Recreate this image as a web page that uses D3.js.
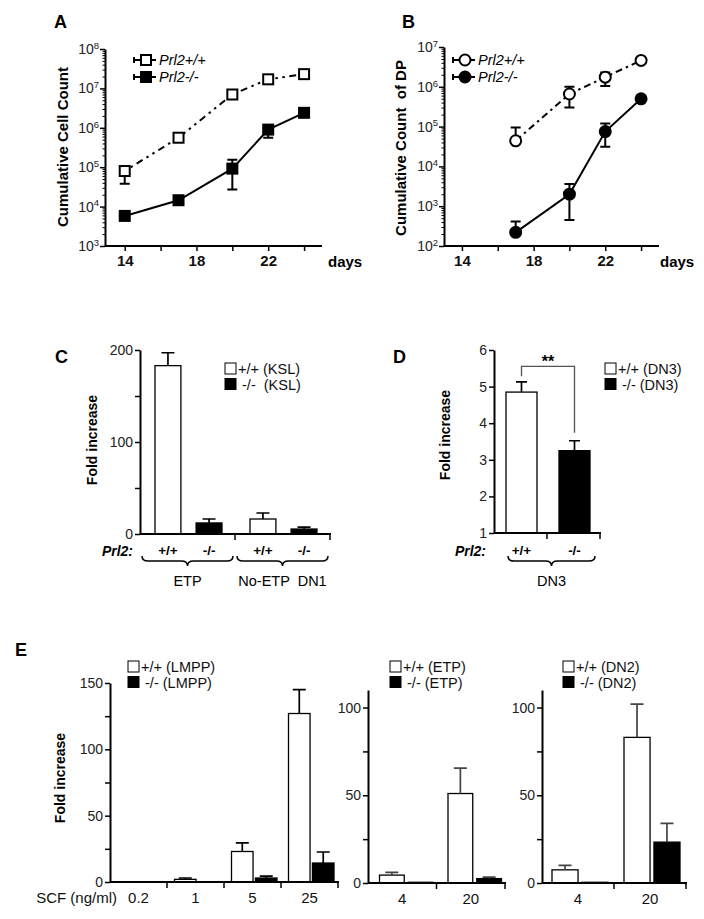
<!DOCTYPE html>
<html>
<head>
<meta charset="utf-8">
<script src="https://cdn.jsdelivr.net/npm/d3@7"></script>
<style>
  body { margin: 0; background: #fff; }
  svg { font-family: "Liberation Sans", Arial, Helvetica, sans-serif; }
  text { white-space: pre; }
</style>
</head>
<body>
<svg id="fig" width="704" height="919"></svg>
<script>
// ---- panel A : cumulative cell count ----
const dayTicks = [14, 16, 18, 20, 22, 24];
const dayLabels = [14, 18, 22];
const daysA = [14, 17, 20, 22, 24];
const cellWT = [8e4, 5.6e5, 7e6, 1.7e7, 2.3e7];
const cellWTerr = [[3.8e4, 1e5], null, null, null, null];
const cellKO = [5.8e3, 1.45e4, 9.2e4, 9e5, 2.4e6];
const cellKOerr = [null, null, [2.7e4, 1.55e5], [5.6e5, 1.15e6], null];

// ---- panel B : cumulative count of DP ----
const daysB = [17, 20, 22, 24];
const dpWT = [4.4e4, 6.6e5, 1.75e6, 4.6e6];
const dpWTerr = [[4.4e4, 9.5e4], [3e5, 1e6], [1.05e6, 2.3e6], null];
const dpKO = [2.2e2, 2e3, 7.5e4, 5e5];
const dpKOerr = [[2.2e2, 4.1e2], [4.5e2, 3.6e3], [3.1e4, 1.2e5], null];

// ---- panel C : fold increase, KSL ----
const genotypes = ["+/+", "-/-"];
const cGroups = ["ETP", "No-ETP  DN1"];
const cWT = [183, 16.3];
const cWTerr = [14, 6.5];
const cKO = [12, 5.4];
const cKOerr = [4.3, 2];

// ---- panel D : fold increase, DN3 ----
const dVals = [4.85, 3.25];
const dErr = [0.28, 0.27];

// ---- panel E : SCF titration ----
const e1Doses = ["0.2", "1", "5", "25"];
const e1WT = [0, 2, 23, 127];
const e1WTerr = [0, 1, 6.5, 18];
const e1KO = [0, 0, 3, 14.3];
const e1KOerr = [0, 0, 1.5, 8.3];

const e2Doses = ["4", "20"];
const e2WT = [4.5, 51];
const e2WTerr = [1.5, 14.5];
const e2KO = [0.4, 2.5];
const e2KOerr = [0, 0.8];

const e3Doses = ["4", "20"];
const e3WT = [7.5, 83];
const e3WTerr = [2.5, 19];
const e3KO = [0.4, 23.3];
const e3KOerr = [0, 10.7];

const FONT = '"Liberation Sans", Arial, Helvetica, sans-serif';
const svg = d3.select("#fig");

function panelLetter(t, x, y) {
  svg.append("text").attr("x", x).attr("y", y).attr("font-size", 18)
    .attr("font-weight", "bold").text(t);
}

function yTitle(t, x, y, fs) {
  svg.append("text").attr("transform", `translate(${x},${y}) rotate(-90)`)
    .attr("text-anchor", "middle").attr("dy", "0.35em")
    .attr("font-size", fs || 14).attr("font-weight", "bold").text(t);
}

function styleAxis(a, fs) {
  a.attr("font-family", FONT).attr("font-size", fs);
  a.select(".domain").attr("stroke", "#000").attr("stroke-width", 2);
  a.selectAll(".tick line").attr("stroke", "#000").attr("stroke-width", 1.5);
  a.selectAll(".tick text").attr("fill", "#222");
}

// log-scale growth curve panel
function growthPanel(x, y, days, series) {
  const g = svg.append("g");
  const y0 = y.range()[0], x0 = x.range()[0];

  const xa = g.append("g").attr("transform", `translate(0,${y0})`)
    .call(d3.axisBottom(x).tickValues(dayTicks).tickSize(5).tickSizeOuter(0).tickPadding(4)
      .tickFormat(d => dayLabels.includes(d) ? d : ""));
  styleAxis(xa, 15);
  xa.selectAll(".tick text").attr("font-weight", "bold").attr("fill", "#111");
  xa.select(".domain").attr("d", `M${x0},0H${x.range()[1]}`);

  const [lo, hi] = y.domain().map(Math.log10);
  const decades = d3.range(lo, hi + 1).map(k => Math.pow(10, k));
  const minors = [];
  for (let k = lo; k < hi; k++) for (let m = 2; m < 10; m++) minors.push(m * Math.pow(10, k));

  g.append("g").attr("transform", `translate(${x0},0)`)
    .call(d3.axisLeft(y).tickValues(minors).tickSize(2.5).tickSizeOuter(0).tickFormat(""))
    .call(a => { a.select(".domain").remove(); a.selectAll("line").attr("stroke-width", 1); });

  const ya = g.append("g").attr("transform", `translate(${x0},0)`)
    .call(d3.axisLeft(y).tickValues(decades).tickSize(5).tickSizeOuter(0).tickPadding(1).tickFormat(""));
  styleAxis(ya, 14);
  ya.selectAll(".tick text").each(function (d) {
    const t = d3.select(this);
    t.append("tspan").text("10");
    t.append("tspan").attr("dy", "-0.55em").attr("font-size", 9.5).text(Math.round(Math.log10(d)));
  });

  const line = d3.line().x(d => x(d.day)).y(d => y(d.v));
  series.forEach(s => {
    const pts = days.map((day, i) => ({ day, v: s.vals[i], e: s.err[i] }));
    g.append("path").datum(pts).attr("d", line).attr("fill", "none")
      .attr("stroke", "#000").attr("stroke-width", 2)
      .attr("stroke-dasharray", s.dash || null);

    const eb = pts.filter(d => d.e);
    g.selectAll(null).data(eb).join("path")
      .attr("d", d => {
        const cx = x(d.day);
        let p = `M${cx},${y(d.e[0])}V${y(d.e[1])}`;
        if (d.e[0] < d.v) p += `M${cx - 5},${y(d.e[0])}h10`;
        if (d.e[1] > d.v) p += `M${cx - 5},${y(d.e[1])}h10`;
        return p;
      })
      .attr("stroke", "#000").attr("stroke-width", 2).attr("fill", "none");

    drawMarker(g, pts.map(d => [x(d.day), y(d.v)]), s, 5);
  });
  return g;
}

function drawMarker(g, pts, s, h) {
  const fill = s.open ? "#fff" : "#000";
  if (s.shape === "square") {
    g.selectAll(null).data(pts).join("rect")
      .attr("x", d => d[0] - h).attr("y", d => d[1] - h).attr("width", 2 * h).attr("height", 2 * h)
      .attr("fill", fill).attr("stroke", "#000").attr("stroke-width", 2);
  } else {
    g.selectAll(null).data(pts).join("circle")
      .attr("cx", d => d[0]).attr("cy", d => d[1]).attr("r", h + 0.5)
      .attr("fill", fill).attr("stroke", "#000").attr("stroke-width", 2);
  }
}

function lineLegend(x, y, s) {
  svg.append("path").attr("d", `M${x - 12},${y - 3}v6M${x - 12},${y}H${x + 10}`)
    .attr("stroke", "#000").attr("stroke-width", 2).attr("fill", "none");
  drawMarker(svg, [[x, y]], s, 5);
  svg.append("text").attr("x", x + 13).attr("y", y).attr("dy", "0.35em")
    .attr("font-size", 14.5).attr("font-style", "italic").text(s.label);
}

function boxLegend(x, y, labels) {
  labels.forEach((t, i) => {
    svg.append("rect").attr("x", x).attr("y", y + i * 15.5 - 6).attr("width", 11).attr("height", 11)
      .attr("fill", i ? "#000" : "#fff").attr("stroke", "#000").attr("stroke-width", 1);
    svg.append("text").attr("x", x + 13).attr("y", y + i * 15.5).attr("dy", "0.36em")
      .attr("font-size", 14.5).attr("fill", "#111").text(t);
  });
}

function drawBars(g, bars, y, errColor) {
  const base = y(y.domain()[0]);
  g.selectAll(null).data(bars).join("rect")
    .attr("x", d => d.x).attr("width", d => d.w)
    .attr("y", d => y(d.v)).attr("height", d => base - y(d.v))
    .attr("fill", d => d.fill).attr("stroke", "#000").attr("stroke-width", 1.3);
  g.selectAll(null).data(bars.filter(d => d.e > 0)).join("path")
    .attr("d", d => {
      const cx = d.x + d.w / 2, c = d.cap / 2;
      return `M${cx},${y(d.v)}V${y(d.v + d.e)}M${cx - c},${y(d.v + d.e)}H${cx + c}`;
    })
    .attr("stroke", errColor).attr("stroke-width", 1.7).attr("fill", "none");
}

function yAxisLinear(y, x0, ticks, labelled) {
  const a = svg.append("g").attr("transform", `translate(${x0},0)`)
    .call(d3.axisLeft(y).tickValues(ticks).tickSize(5).tickSizeOuter(0).tickPadding(2)
      .tickFormat(d => labelled.includes(d) ? d : ""));
  styleAxis(a, 14);
  return a;
}

// x axis drawn from a band scale: ticks at band edges
function xAxisBand(xb, yBase) {
  const [r0, r1] = xb.range();
  svg.append("line").attr("x1", r0).attr("x2", r1 + 1).attr("y1", yBase).attr("y2", yBase)
    .attr("stroke", "#000").attr("stroke-width", 2);
  svg.selectAll(null).data(xb.domain()).join("line")
    .attr("x1", d => xb(d) + xb.bandwidth()).attr("x2", d => xb(d) + xb.bandwidth())
    .attr("y1", yBase).attr("y2", yBase + 6)
    .attr("stroke", "#000").attr("stroke-width", 1.5);
}

function brace(x1, x2, y) {
  const m = (x1 + x2) / 2, r = 6;
  return `M${x1},${y - 4}Q${x1},${y + 1} ${x1 + r},${y + 1}L${m - r},${y + 1}` +
    `Q${m},${y + 1} ${m},${y + 6}Q${m},${y + 1} ${m + r},${y + 1}L${x2 - r},${y + 1}` +
    `Q${x2},${y + 1} ${x2},${y - 4}`;
}

function drawBrace(x1, x2, y) {
  svg.append("path").attr("d", brace(x1, x2, y)).attr("fill", "none")
    .attr("stroke", "#000").attr("stroke-width", 1.5);
}

// ================= Panel A =================
const xA = d3.scaleLinear().domain([12.9, 25]).range([105, 322]);
const yA = d3.scaleLog().domain([1e3, 1e8]).range([246, 49]);
const serA = [
  { vals: cellWT, err: cellWTerr, shape: "square", open: true, dash: "2.5,4.5,2.5,4.5,7,4.5", label: "Prl2+/+" },
  { vals: cellKO, err: cellKOerr, shape: "square", open: false, label: "Prl2-/-" }
];
growthPanel(xA, yA, daysA, serA);
panelLetter("A", 54, 28);
yTitle("Cumulative Cell Count", 63, 147, 15);
svg.append("text").attr("x", 328).attr("y", 267).attr("font-size", 15).attr("font-weight", "bold").text("days");
lineLegend(146, 60, serA[0]);
lineLegend(146, 77, serA[1]);

// ================= Panel B =================
const xB = d3.scaleLinear().domain([13, 25]).range([444, 659]);
const yB = d3.scaleLog().domain([1e2, 1e7]).range([246, 47]);
const serB = [
  { vals: dpWT, err: dpWTerr, shape: "circle", open: true, dash: "7,4,2.5,4", label: "Prl2+/+" },
  { vals: dpKO, err: dpKOerr, shape: "circle", open: false, label: "Prl2-/-" }
];
growthPanel(xB, yB, daysB, serB);
panelLetter("B", 402, 28);
yTitle("Cumulative Count  of DP", 401, 148, 15);
svg.append("text").attr("x", 660).attr("y", 267).attr("font-size", 15).attr("font-weight", "bold").text("days");
lineLegend(465, 60, serB[0]);
lineLegend(465, 77, serB[1]);

// ================= Panel C =================
const yC = d3.scaleLinear().domain([0, 200]).range([534, 350]);
const xC = d3.scaleBand().domain(cGroups).range([140, 330]);
const xCin = d3.scaleBand().domain(genotypes).range([15, 82]).paddingInner(0.37);
yAxisLinear(yC, 140, [0, 50, 100, 150, 200], [0, 100, 200]);
const barsC = [];
cGroups.forEach((g, i) => {
  barsC.push({ x: xC(g) + xCin("+/+"), w: xCin.bandwidth(), v: cWT[i], e: cWTerr[i], fill: "#fff", cap: 13, g, geno: "+/+" });
  barsC.push({ x: xC(g) + xCin("-/-"), w: xCin.bandwidth(), v: cKO[i], e: cKOerr[i], fill: "#000", cap: 13, g, geno: "-/-" });
});
drawBars(svg.append("g"), barsC, yC, "#000");
xAxisBand(xC, 534);
svg.selectAll(null).data(barsC).join("text")
  .attr("x", d => d.x + d.w / 2).attr("y", 555).attr("text-anchor", "middle")
  .attr("font-size", 13.5).attr("font-weight", "bold").text(d => d.geno);
svg.append("text").attr("x", 133).attr("y", 556).attr("text-anchor", "end")
  .attr("font-size", 14).attr("font-weight", "bold").attr("font-style", "italic").text("Prl2:");
cGroups.forEach(g => {
  drawBrace(xC(g) + 2, xC(g) + xC.bandwidth() - 2, 560);
  svg.append("text").attr("x", xC(g) + xC.bandwidth() / 2).attr("y", 586).attr("text-anchor", "middle")
    .attr("font-size", 14.5).text(g);
});
panelLetter("C", 55, 363);
yTitle("Fold increase", 92, 440);
boxLegend(225, 369, ["+/+ (KSL)", " -/-  (KSL)"]);

// ================= Panel D =================
const yD = d3.scaleLinear().domain([1, 6]).range([533, 350]);
const xD = d3.scaleBand().domain(genotypes).range([494, 600]);
yAxisLinear(yD, 494, [1, 2, 3, 4, 5, 6], [1, 2, 3, 4, 5, 6]);
const barsD = genotypes.map((g, i) => ({
  x: xD(g) + 12, w: 31, v: dVals[i], e: dErr[i], fill: i ? "#000" : "#fff", cap: 11, geno: g
}));
drawBars(svg.append("g"), barsD, yD, "#000");
xAxisBand(xD, 533);
svg.selectAll(null).data(barsD).join("text")
  .attr("x", d => d.x + d.w / 2).attr("y", 555).attr("text-anchor", "middle")
  .attr("font-size", 13.5).attr("font-weight", "bold").text(d => d.geno);
svg.append("text").attr("x", 486).attr("y", 556).attr("text-anchor", "end")
  .attr("font-size", 14).attr("font-weight", "bold").attr("font-style", "italic").text("Prl2:");
drawBrace(xD.range()[0] + 14, xD.range()[1] - 5, 560);
svg.append("text").attr("x", (xD.range()[0] + 14 + xD.range()[1] - 5) / 2).attr("y", 586)
  .attr("text-anchor", "middle").attr("font-size", 14.5).text("DN3");
// significance bracket
const bl = barsD[0], br = barsD[1], bTop = yD(5.55);
svg.append("path")
  .attr("d", `M${bl.x + bl.w / 2},${yD(bl.v + bl.e + 0.15)}V${bTop}H${br.x + br.w / 2}V${yD(br.v + br.e + 0.22)}`)
  .attr("fill", "none").attr("stroke", "#555").attr("stroke-width", 1.3);
svg.append("text").attr("x", (bl.x + bl.w / 2 + br.x + br.w / 2) / 2).attr("y", bTop + 1)
  .attr("text-anchor", "middle").attr("font-size", 16).attr("font-weight", "bold").text("**");
panelLetter("D", 393, 363);
yTitle("Fold increase", 445, 435);
boxLegend(605, 369, ["+/+ (DN3)", " -/- (DN3)"]);

// ================= Panel E =================
function ePanel(doses, wt, wtErr, ko, koErr, y, xb, inner, errColor, ticks, labelled) {
  yAxisLinear(y, xb.range()[0], ticks, labelled);
  const bars = [];
  doses.forEach((d, i) => {
    bars.push({ x: xb(d) + inner("+/+"), w: inner.bandwidth(), v: wt[i], e: wtErr[i], fill: "#fff", cap: 13 });
    bars.push({ x: xb(d) + inner("-/-"), w: inner.bandwidth(), v: ko[i], e: koErr[i], fill: "#000", cap: 13 });
  });
  drawBars(svg.append("g"), bars, y, errColor);
  const base = y(0);
  xAxisBand(xb, base);
  svg.selectAll(null).data(doses).join("text")
    .attr("x", d => xb(d) + xb.bandwidth() / 2).attr("y", base + 21).attr("text-anchor", "middle")
    .attr("font-size", 15).attr("fill", "#111").text(d => d);
}

const yE1 = d3.scaleLinear().domain([0, 150]).range([882, 683]);
const xE1 = d3.scaleBand().domain(e1Doses).range([110, 338]);
const inE1 = d3.scaleBand().domain(genotypes).range([7.5, 53]).paddingInner(0.1);
ePanel(e1Doses, e1WT, e1WTerr, e1KO, e1KOerr, yE1, xE1, inE1, "#000",
  [0, 25, 50, 75, 100, 125, 150], [0, 50, 100, 150]);
svg.append("text").attr("x", 117).attr("y", 903).attr("text-anchor", "end")
  .attr("font-size", 15).attr("fill", "#111").text("SCF (ng/ml)");

const yE2 = d3.scaleLinear().domain([0, 110]).range([883, 690]);
const xE2 = d3.scaleBand().domain(e2Doses).range([368, 505]);
const inE2 = d3.scaleBand().domain(genotypes).range([11.5, 65]).paddingInner(0.14);
ePanel(e2Doses, e2WT, e2WTerr, e2KO, e2KOerr, yE2, xE2, inE2, "#444",
  [0, 25, 50, 75, 100], [0, 50, 100]);

const yE3 = d3.scaleLinear().domain([0, 110]).range([883, 690]);
const xE3 = d3.scaleBand().domain(e3Doses).range([542, 686]);
const inE3 = d3.scaleBand().domain(genotypes).range([10, 66]).paddingInner(0.13);
ePanel(e3Doses, e3WT, e3WTerr, e3KO, e3KOerr, yE3, xE3, inE3, "#444",
  [0, 25, 50, 75, 100], [0, 50, 100]);

panelLetter("E", 15, 656);
yTitle("Fold increase", 60, 778);
boxLegend(128, 667, ["+/+ (LMPP)", " -/- (LMPP)"]);
boxLegend(390, 667, ["+/+ (ETP)", " -/- (ETP)"]);
boxLegend(563, 667, ["+/+ (DN2)", " -/- (DN2)"]);
</script>
</body>
</html>
